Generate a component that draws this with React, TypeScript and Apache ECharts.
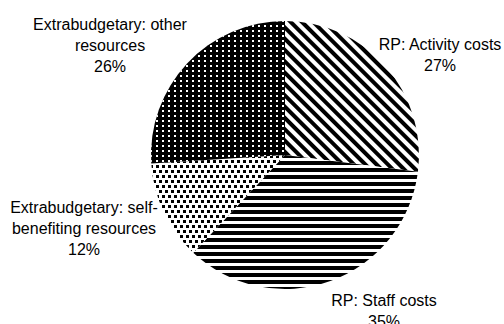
import React, { useEffect, useRef } from "react";
import * as echarts from "echarts";

const categories = [
  "RP: Activity costs",
  "RP: Staff costs",
  "Extrabudgetary: self-benefiting resources",
  "Extrabudgetary: other resources",
];
const labelNames = [
  "RP: Activity costs",
  "RP: Staff costs",
  "Extrabudgetary: self-\nbenefiting resources",
  "Extrabudgetary: other\nresources",
];
const values = [27, 35, 12, 26];

const labelPos = [
  { x: 440, y: 54.5 },
  { x: 384, y: 310.5 },
  { x: 84, y: 228 },
  { x: 110, y: 45 },
];

const styles = [
  {
    color: "#ffffff",
    decal: {
      symbol: "rect",
      color: "#000000",
      dashArrayX: [1, 0],
      dashArrayY: [3.5, 3.5],
      rotation: Math.PI / 4,
    },
  },
  {
    color: "#ffffff",
    decal: {
      symbol: "rect",
      color: "#000000",
      dashArrayX: [1, 0],
      dashArrayY: [4, 3],
      rotation: 0,
    },
  },
  {
    color: "#ffffff",
    decal: {
      symbol: "rect",
      color: "#000000",
      symbolSize: 1,
      dashArrayX: [[3, 3], [0, 3, 3, 0]],
      dashArrayY: [3, 2],
      rotation: 0,
    },
  },
  {
    color: "#000000",
    decal: {
      symbol: "rect",
      color: "#ffffff",
      symbolSize: 1,
      dashArrayX: [2, 4],
      dashArrayY: [2, 3],
      rotation: 0,
    },
  },
];

export default function App() {
  const ref = useRef<HTMLDivElement>(null);
  useEffect(() => {
    document.body.style.margin = "0";
    const chart = echarts.init(ref.current!, null, { renderer: "svg" });
    chart.setOption({
      animation: false,
      backgroundColor: "#ffffff",
      series: [
        {
          type: "pie",
          center: [285, 155],
          radius: 134,
          startAngle: 90,
          clockwise: true,
          percentPrecision: 0,
          itemStyle: { borderWidth: 0 },
          label: {
            show: true,
            position: "outside",
            formatter: (p: any) => `${labelNames[p.dataIndex]}\n${Math.round(p.percent)}%`,
            fontFamily: "Liberation Sans, Arial, sans-serif",
            fontSize: 16,
            lineHeight: 21,
            color: "#000000",
            align: "center",
            overflow: "none",
            width: 300,
          },
          labelLine: { show: false },
          labelLayout: (params: any) => ({
            x: labelPos[params.dataIndex].x,
            y: labelPos[params.dataIndex].y,
            align: "center",
            verticalAlign: "middle",
          }),
          emphasis: { disabled: true },
          data: categories.map((name, i) => ({
            name,
            value: values[i],
            itemStyle: styles[i],
          })),
        },
      ],
    });
    return () => chart.dispose();
  }, []);
  return <div ref={ref} style={{ width: 504, height: 324 }} />;
}
